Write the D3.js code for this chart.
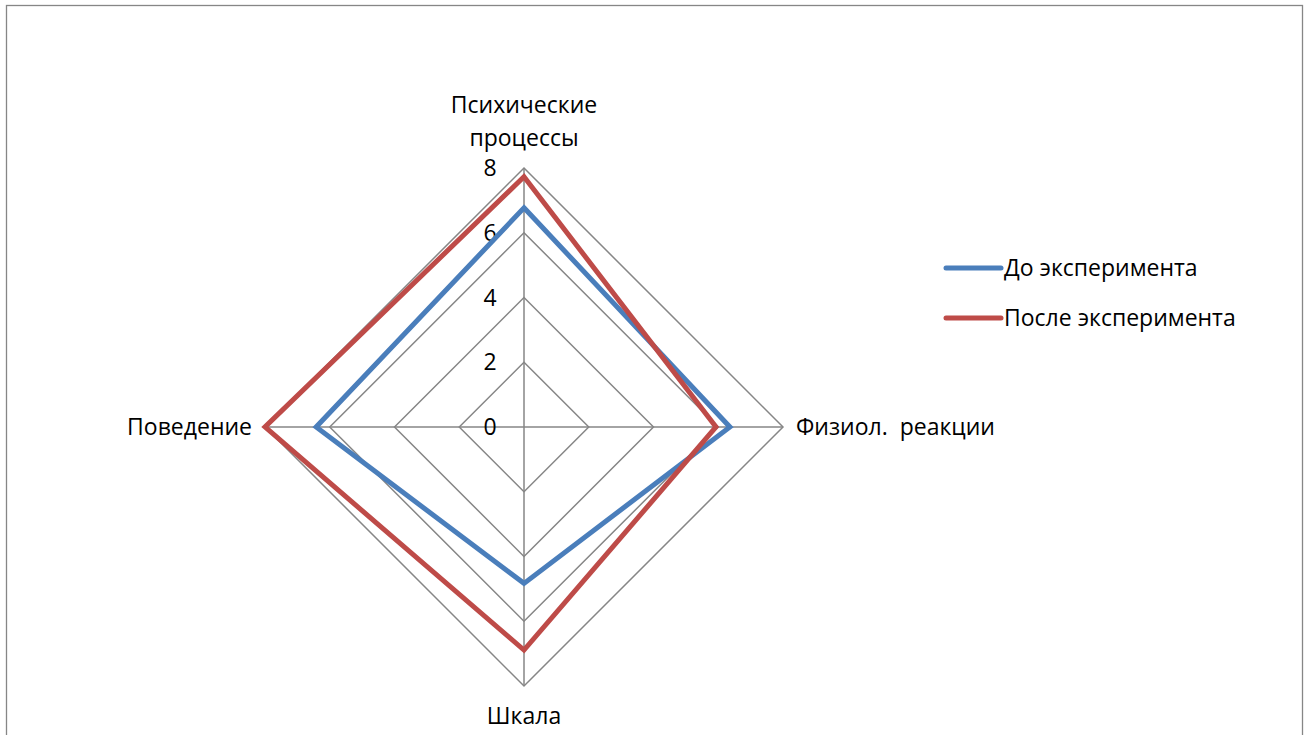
<!DOCTYPE html>
<html><head><meta charset="utf-8">
<script src="https://cdn.jsdelivr.net/npm/d3@7"></script>
<style>body{margin:0;background:#fff}svg{display:block}text{font-family:"Open Sans","Liberation Sans",sans-serif;fill:#000}</style>
</head><body>
<svg id="c" width="1309" height="735"></svg>
<script>
const categories = ["Психические процессы", "Физиол.  реакции", "Шкала", "Поведение"];
const seriesNames = ["До эксперимента", "После эксперимента"];
const before = [6.77, 6.36, 4.83, 6.42];
const after = [7.73, 5.93, 6.89, 8.0];
const ticks = [0, 2, 4, 6, 8];
const colors = ["#4a7ebb", "#be4b48"];
const FS = 23;

const svg = d3.select("#c");
svg.append("rect").attr("x", 6.5).attr("y", 5.5).attr("width", 1296).attr("height", 740)
  .attr("fill", "#fff").attr("stroke", "#868686").attr("stroke-width", 1.3);

const cx = 524, cy = 427, R = 259;
const r = d3.scaleLinear().domain([0, 8]).range([0, R]);
const n = categories.length;
const ang = i => -Math.PI / 2 + i * 2 * Math.PI / n;
const pt = (i, v) => [cx + r(v) * Math.cos(ang(i)), cy + r(v) * Math.sin(ang(i))];

const g = svg.append("g");
ticks.filter(t => t > 0).forEach(t => {
  g.append("path").attr("d", d3.line()(d3.range(n).map(i => pt(i, t))) + "Z")
    .attr("fill", "none").attr("stroke", "#868686").attr("stroke-width", 1.5);
});
d3.range(n).forEach(i => {
  const p = pt(i, 8);
  g.append("line").attr("x1", cx).attr("y1", cy).attr("x2", p[0]).attr("y2", p[1])
    .attr("stroke", "#868686").attr("stroke-width", 1.5);
});
ticks.forEach(t => {
  g.append("text").attr("x", cx - 34).attr("y", cy - r(t)).attr("dy", "0.35em")
    .attr("text-anchor", "middle").attr("font-size", FS).text(t);
});
[before, after].forEach((vals, k) => {
  g.append("path").attr("d", d3.line()(vals.map((v, i) => pt(i, v))) + "Z")
    .attr("fill", "none").attr("stroke", colors[k]).attr("stroke-width", 5).attr("stroke-linejoin", "miter");
});
const topLabel = g.append("text").attr("text-anchor", "middle").attr("font-size", FS);
const words = categories[0].split(" ");
topLabel.append("tspan").attr("x", cx).attr("y", 113).text(words[0]);
topLabel.append("tspan").attr("x", cx).attr("y", 146).text(words[1]);
g.append("text").attr("x", pt(1, 8)[0] + 13).attr("y", cy + 8).attr("font-size", FS)
  .attr("xml:space", "preserve").style("white-space", "pre").text(categories[1]);
g.append("text").attr("x", cx).attr("y", 724).attr("text-anchor", "middle").attr("font-size", FS).text(categories[2]);
g.append("text").attr("x", pt(3, 8)[0] - 13).attr("y", cy + 8).attr("text-anchor", "end").attr("font-size", FS).text(categories[3]);

seriesNames.forEach((s, k) => {
  const y = 268 + k * 50;
  svg.append("line").attr("x1", 946).attr("x2", 1001).attr("y1", y).attr("y2", y)
    .attr("stroke", colors[k]).attr("stroke-width", 5).attr("stroke-linecap", "round");
  svg.append("text").attr("x", 1004).attr("y", y + 8).attr("font-size", FS).text(s);
});
</script>
</body></html>
